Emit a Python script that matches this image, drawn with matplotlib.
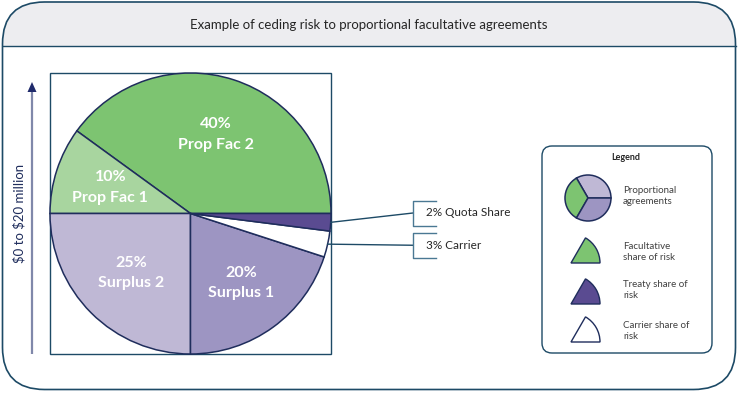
import numpy as np
import matplotlib
matplotlib.use("Agg")
import matplotlib.pyplot as plt
from matplotlib.patches import FancyBboxPatch, Rectangle, Wedge, Polygon

plt.rcParams['font.family'] = ['Lato', 'DejaVu Sans']

# ---------------- data ----------------
title = "Example of ceding risk to proportional facultative agreements"
axis_label = "$0 to $20 million"
slice_names = ["Prop Fac 2", "Prop Fac 1", "Surplus 2", "Surplus 1", "Carrier", "Quota Share"]
slice_values = [40, 10, 25, 20, 3, 2]
slice_colors = ["#7dc471", "#a8d59f", "#bfb8d5", "#9d95c2", "#ffffff", "#5a4b91"]
inside_labels = ["Prop Fac 2", "Prop Fac 1", "Surplus 2", "Surplus 1"]
callout_labels = ["2% Quota Share", "3% Carrier"]
callout_slices = ["Quota Share", "Carrier"]
legend_title = "Legend"
legend_texts = ["Proportional\nagreements", "Facultative\nshare of risk", "Treaty share of\nrisk", "Carrier share of\nrisk"]
legend_icon_values = [1, 1, 1]
legend_icon_colors = ["#bfb8d5", "#7dc471", "#9d95c2"]
legend_wedge_colors = ["#7dc471", "#5a4b91", "#ffffff"]

NAVY = "#1f2d5c"
FRAME = "#1d4a66"
CALL = "#4a7893"

W, H = 738, 403
fig = plt.figure(figsize=(W / 100, H / 100), dpi=100)
ax = fig.add_axes([0, 0, 1, 1])
ax.set_axis_off()

def Y(y):
    return H - y

# outer frame with header
box = dict(boxstyle="round,pad=0,rounding_size=42")
frame = FancyBboxPatch((2.5, Y(389.5)), 733, 387.5, facecolor="white", edgecolor="none",
                       zorder=1, **box)
ax.add_patch(frame)
hdr = Rectangle((0, Y(45.5)), W, 60, facecolor="#ededf0", edgecolor="none", zorder=1.5)
ax.add_patch(hdr)
hdr.set_clip_path(frame)
ax.plot([2.5, 735.5], [Y(45.5), Y(45.5)], color=FRAME, lw=1.0, zorder=2)
ax.add_patch(FancyBboxPatch((2.5, Y(389.5)), 733, 387.5, facecolor="none", edgecolor=FRAME,
                            linewidth=1.2, zorder=3, **box))
ax.text(369, Y(25), title, ha="center", va="center", fontsize=9.5, color="#262626", zorder=4)

# square around pie
ax.add_patch(Rectangle((49.5, Y(354)), 281.5, 281, facecolor="none", edgecolor=FRAME, lw=1.0, zorder=2))

# pie
cx, cy, R = 190.5, Y(213.5), 140.5
wedges, _ = ax.pie(slice_values, colors=slice_colors, startangle=0, counterclock=True,
                   center=(cx, cy), radius=R, frame=True,
                   wedgeprops=dict(edgecolor=NAVY, linewidth=1.1))
for w in wedges:
    w.set_zorder(3)

label_r = [0.59, 0.60, 0.60, 0.61]
for i, name in enumerate(inside_labels):
    w = wedges[slice_names.index(name)]
    mid = np.deg2rad((w.theta1 + w.theta2) / 2)
    val = slice_values[slice_names.index(name)]
    ax.text(cx + label_r[i] * R * np.cos(mid), cy + label_r[i] * R * np.sin(mid),
            f"{val}%\n{name}", ha="center", va="center", color="white",
            fontsize=11.5, fontweight="bold", linespacing=1.6, zorder=5)

# callouts
bracket_y = [(200.5, 225.5), (232.5, 258)]
for lab, sname, (yt, yb) in zip(callout_labels, callout_slices, bracket_y):
    w = wedges[slice_names.index(sname)]
    mid = np.deg2rad((w.theta1 + w.theta2) / 2)
    px, py = cx + R * np.cos(mid), cy + R * np.sin(mid)
    ym = (yt + yb) / 2
    ax.plot([px, 413], [py, Y(ym)], color=FRAME, lw=1.0, zorder=4)
    ax.plot([436, 413, 413, 436], [Y(yt), Y(yt), Y(yb), Y(yb)], color=CALL, lw=1.0, zorder=4)
    ax.text(426, Y(ym), lab, ha="left", va="center", fontsize=8.5, color="#262626", zorder=5)

# vertical arrow
ax.plot([32, 32], [Y(354), Y(90)], color="#8088aa", lw=1.6, solid_capstyle="butt", zorder=4)
ax.add_patch(Polygon([(27.5, Y(92)), (36.5, Y(92)), (32, Y(82))], closed=True,
                     facecolor="#1f2a6b", edgecolor="none", zorder=5))
ax.text(19, Y(213), axis_label.replace("$", r"\$"), rotation=90, ha="center", va="center",
        fontsize=9.5, color=NAVY, zorder=5)

# legend box
ax.add_patch(FancyBboxPatch((542, Y(353)), 170, 207, boxstyle="round,pad=0,rounding_size=10",
                            facecolor="white", edgecolor=FRAME, lw=1.0, zorder=3))
ax.text(626, Y(157), legend_title, ha="center", va="center", fontsize=6.5,
        fontweight="bold", color="#262626", zorder=5)
icon_w, _ = ax.pie(legend_icon_values, colors=legend_icon_colors, startangle=0, counterclock=True,
                   center=(588, Y(198)), radius=23, frame=True,
                   wedgeprops=dict(edgecolor=NAVY, linewidth=1.1))
for w in icon_w:
    w.set_zorder(4)
icon_y = [263, 304, 342]
for col, yy in zip(legend_wedge_colors, icon_y):
    ax.add_patch(Wedge((571, Y(yy)), 29, 0, 60, facecolor=col, edgecolor=NAVY, lw=1.0, zorder=4))
text_y = [196, 252, 290, 331]
for t, yy in zip(legend_texts, text_y):
    ax.text(623, Y(yy), t, ha="left", va="center", fontsize=7, color="#404040",
            linespacing=1.35, zorder=5)

ax.set_xlim(0, W)
ax.set_ylim(0, H)
ax.set_aspect("auto")
ax.set_axis_off()
fig.savefig("out.png", dpi=100)
